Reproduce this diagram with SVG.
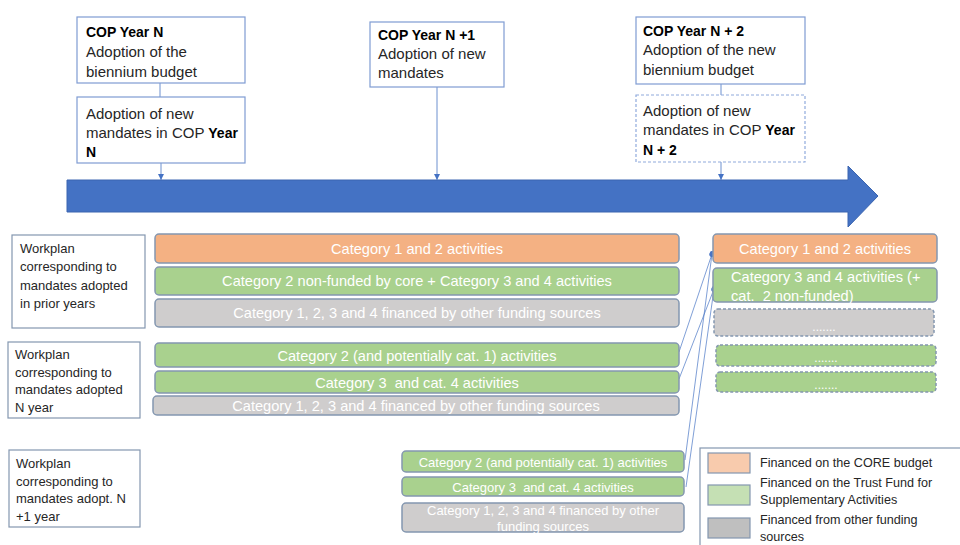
<svg xmlns="http://www.w3.org/2000/svg" width="960" height="545" viewBox="0 0 960 545">
<style>
  text { font-family: "Liberation Sans", Arial, sans-serif; }
  .tb { fill: #ffffff; stroke: #7F9CD3; stroke-width: 1.2; }
  .tbd { fill: #ffffff; stroke: #8FAADC; stroke-width: 1.2; stroke-dasharray: 3 2; }
  .tt { font-size: 15px; fill: #262626; }
  .b { font-weight: bold; fill: #000; font-size: 14px; }
  .lb { fill: #ffffff; stroke: #8497B0; stroke-width: 1.2; }
  .lt { font-size: 13px; fill: #262626; }
  .bar { stroke: #8497B0; stroke-width: 1.5; }
  .dash { stroke-dasharray: 3 2; }
  .or { fill: #F4B183; }
  .gr { fill: #A9D18E; }
  .gy { fill: #CFCDCD; }
  .bt { font-size: 14.6px; fill: #ffffff; text-anchor: middle; }
  .bs { font-size: 13px; fill: #ffffff; text-anchor: middle; }
  .dots { font-size: 12px; fill: #ffffff; text-anchor: middle; }
  .con { stroke: #5B84C9; stroke-width: 0.9; fill: none; }
  .link { stroke: #4472C4; stroke-width: 0.8; fill: none; opacity: 0.85; }
  .leg { font-size: 12.6px; fill: #262626; }
</style>
<defs>
  <marker id="tri" markerWidth="8" markerHeight="8" refX="6" refY="3" orient="auto" markerUnits="userSpaceOnUse">
    <path d="M0,0 L6,3 L0,6 Z" fill="#4472C4"/>
  </marker>
  <marker id="dot" markerWidth="8" markerHeight="8" refX="4" refY="4" orient="auto" markerUnits="userSpaceOnUse">
    <ellipse cx="4" cy="4" rx="3" ry="2.5" fill="#4472C4"/>
  </marker>
</defs>

<!-- big timeline arrow -->
<g id="timeline">
  <path d="M67,180 H848 V166 L878,196 L848,227 V212 H67 Z" fill="#4472C4" stroke="#3A64B0" stroke-width="1"/>
</g>

<!-- connectors -->
<g id="connectors">
  <line class="con" x1="160" y1="83" x2="160" y2="97"/>
  <line class="con" x1="161" y1="163" x2="161" y2="180" marker-end="url(#tri)"/>
  <line class="con" x1="437" y1="87" x2="437" y2="180" marker-end="url(#tri)"/>
  <line class="con" x1="721" y1="84" x2="721" y2="95"/>
  <line class="con" x1="721" y1="162" x2="721" y2="180" marker-end="url(#tri)"/>
  <line class="link" x1="679" y1="352" x2="712" y2="254" marker-end="url(#dot)"/>
  <line class="link" x1="679" y1="379" x2="714" y2="289" marker-end="url(#dot)"/>
  <line class="link" x1="685" y1="460" x2="712" y2="254" marker-end="url(#dot)"/>
  <line class="link" x1="686" y1="487" x2="714" y2="289" marker-end="url(#dot)"/>
</g>

<!-- top boxes -->
<g id="cop-n">
  <rect class="tb" x="77" y="17" width="168" height="66"/>
  <text class="tt" x="86" y="37"><tspan class="b">COP Year N</tspan></text>
  <text class="tt" x="86" y="57">Adoption of the</text>
  <text class="tt" x="86" y="77">biennium budget</text>
</g>
<g id="cop-n-mandates">
  <rect class="tb" x="77" y="97" width="168" height="66"/>
  <text class="tt" x="86" y="119">Adoption of new</text>
  <text class="tt" x="86" y="138">mandates in COP <tspan class="b">Year</tspan></text>
  <text class="tt" x="86" y="157"><tspan class="b">N</tspan></text>
</g>
<g id="cop-n1">
  <rect class="tb" x="370" y="22" width="134" height="65"/>
  <text class="tt" x="378" y="40"><tspan class="b">COP Year N +1</tspan></text>
  <text class="tt" x="378" y="59">Adoption of new</text>
  <text class="tt" x="378" y="78">mandates</text>
</g>
<g id="cop-n2">
  <rect class="tb" x="636" y="17" width="169" height="67"/>
  <text class="tt" x="643" y="36"><tspan class="b">COP Year N + 2</tspan></text>
  <text class="tt" x="643" y="55">Adoption of the new</text>
  <text class="tt" x="643" y="75">biennium budget</text>
</g>
<g id="cop-n2-mandates">
  <rect class="tbd" x="636" y="95" width="169" height="67"/>
  <text class="tt" x="643" y="116">Adoption of new</text>
  <text class="tt" x="643" y="135">mandates in COP <tspan class="b">Year</tspan></text>
  <text class="tt" x="643" y="155"><tspan class="b">N + 2</tspan></text>
</g>

<!-- left labels -->
<g id="wp-prior">
  <rect class="lb" x="12" y="235" width="133" height="93"/>
  <text class="lt" x="20" y="253">Workplan</text>
  <text class="lt" x="20" y="271">corresponding to</text>
  <text class="lt" x="20" y="290">mandates adopted</text>
  <text class="lt" x="20" y="308">in prior years</text>
</g>
<g id="wp-n">
  <rect class="lb" x="8" y="342" width="132" height="76"/>
  <text class="lt" x="15" y="359">Workplan</text>
  <text class="lt" x="15" y="377">corresponding to</text>
  <text class="lt" x="15" y="394">mandates adopted</text>
  <text class="lt" x="15" y="412">N year</text>
</g>
<g id="wp-n1">
  <rect class="lb" x="9" y="450" width="131" height="77"/>
  <text class="lt" x="16" y="468">Workplan</text>
  <text class="lt" x="16" y="486">corresponding to</text>
  <text class="lt" x="16" y="503">mandates adopt. N</text>
  <text class="lt" x="16" y="521">+1 year</text>
</g>

<!-- prior years bars -->
<g id="prior-cat12">
  <rect class="bar or" x="155" y="234" width="524" height="29" rx="4"/>
  <text class="bt" x="417" y="254">Category 1 and 2 activities</text>
</g>
<g id="prior-cat234">
  <rect class="bar gr" x="155" y="267" width="524" height="28" rx="4"/>
  <text class="bt" x="417" y="286">Category 2 non-funded by core + Category 3 and 4 activities</text>
</g>
<g id="prior-other">
  <rect class="bar gy" x="155" y="299" width="524" height="28" rx="4"/>
  <text class="bt" x="417" y="318">Category 1, 2, 3 and 4 financed by other funding sources</text>
</g>

<!-- N year bars -->
<g id="n-cat2">
  <rect class="bar gr" x="155" y="343" width="524" height="24" rx="4"/>
  <text class="bt" x="417" y="360.5">Category 2 (and potentially cat. 1) activities</text>
</g>
<g id="n-cat34">
  <rect class="bar gr" x="155" y="371" width="524" height="22" rx="4"/>
  <text class="bt" x="417" y="387.5" xml:space="preserve">Category 3  and cat. 4 activities</text>
</g>
<g id="n-other">
  <rect class="bar gy" x="153" y="396" width="526" height="19" rx="4"/>
  <text class="bt" x="416" y="411">Category 1, 2, 3 and 4 financed by other funding sources</text>
</g>

<!-- N+1 year bars -->
<g id="n1-cat2">
  <rect class="bar gr" x="402" y="451" width="282" height="21" rx="4"/>
  <text class="bs" x="543" y="466.5">Category 2 (and potentially cat. 1) activities</text>
</g>
<g id="n1-cat34">
  <rect class="bar gr" x="402" y="477" width="282" height="19" rx="4"/>
  <text class="bs" x="543" y="491.5" xml:space="preserve">Category 3  and cat. 4 activities</text>
</g>
<g id="n1-other">
  <rect class="bar gy" x="402" y="503" width="282" height="29" rx="4"/>
  <text class="bs" x="543" y="515">Category 1, 2, 3 and 4 financed by other</text>
  <text class="bs" x="543" y="531">funding sources</text>
</g>

<!-- N+2 bars -->
<g id="n2-cat12">
  <rect class="bar or" x="713" y="234" width="224" height="29" rx="4"/>
  <text class="bt" x="825" y="254">Category 1 and 2 activities</text>
</g>
<g id="n2-cat34">
  <rect class="bar gr" x="713" y="268" width="224" height="34" rx="4"/>
  <text class="bt" x="731" y="282" style="text-anchor:start">Category 3 and 4 activities (+</text>
  <text class="bt" x="731" y="301" style="text-anchor:start" xml:space="preserve">cat.  2 non-funded)</text>
</g>
<g id="n2-other">
  <rect class="bar gy dash" x="714" y="309" width="220" height="27" rx="4"/>
  <text class="dots" x="824" y="331">.......</text>
</g>
<g id="n2-green1">
  <rect class="bar gr dash" x="716" y="345" width="220" height="21" rx="4"/>
  <text class="dots" x="826" y="362">.......</text>
</g>
<g id="n2-green2">
  <rect class="bar gr dash" x="716" y="372" width="220" height="20" rx="4"/>
  <text class="dots" x="826" y="389">.......</text>
</g>

<!-- legend -->
<g id="legend">
  <rect x="700" y="448" width="270" height="110" fill="#ffffff" stroke="#8497B0" stroke-width="1.2"/>
  <rect x="708" y="453" width="42" height="20" fill="#F8CBAD" stroke="#8497B0" stroke-width="1.2"/>
  <text class="leg" x="760" y="467">Financed on the CORE budget</text>
  <rect x="708" y="485" width="42" height="20" fill="#C5E0B4" stroke="#8497B0" stroke-width="1.2"/>
  <text class="leg" x="760" y="487">Financed on the Trust Fund for</text>
  <text class="leg" x="760" y="504">Supplementary Activities</text>
  <rect x="708" y="518" width="42" height="20" fill="#BFBFBF" stroke="#8497B0" stroke-width="1.2"/>
  <text class="leg" x="760" y="524">Financed from other funding</text>
  <text class="leg" x="760" y="541">sources</text>
</g>
</svg>
